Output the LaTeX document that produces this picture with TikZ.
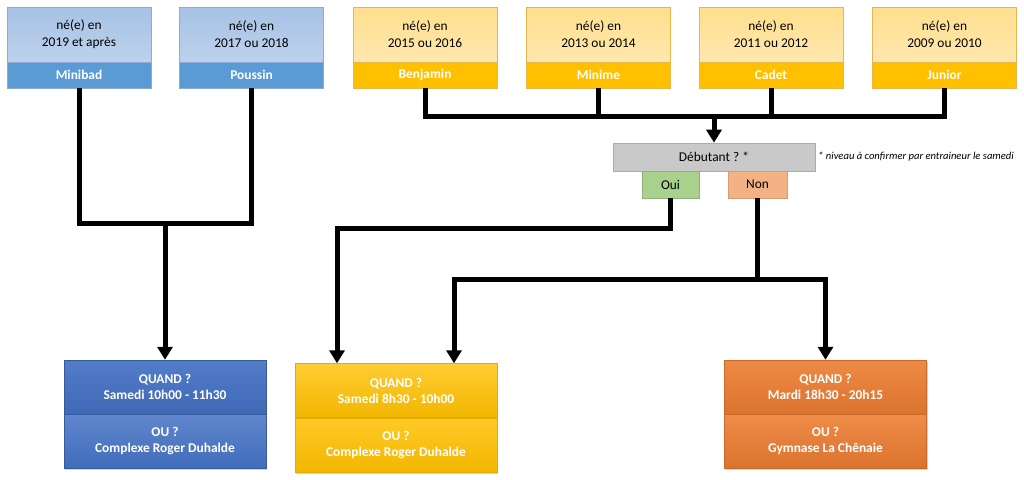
\documentclass[tikz,border=0pt]{standalone}
\usepackage{fontspec}
\setmainfont{Carlito}
\usepackage{tikz}
\usetikzlibrary{arrows.meta}
\usetikzlibrary{shadows}

\definecolor{bluetopA}{HTML}{A7C2E5}
\definecolor{bluetopB}{HTML}{BDD1EC}
\definecolor{blueband}{HTML}{5B9BD5}
\definecolor{blueedge}{HTML}{8EAAD2}
\definecolor{goldtopA}{HTML}{FFDF8E}
\definecolor{goldtopB}{HTML}{FFE8AE}
\definecolor{goldband}{HTML}{FFC000}
\definecolor{goldedge}{HTML}{E8B64A}
\definecolor{greyask}{HTML}{C9C9C9}
\definecolor{greenyes}{HTML}{A9D18E}
\definecolor{salmonno}{HTML}{F4B183}
\definecolor{slotblue}{HTML}{4472C4}
\definecolor{slotgold}{HTML}{FFC000}
\definecolor{slotorange}{HTML}{ED7D31}

\begin{document}
\frenchspacing
\begin{tikzpicture}[x=1pt,y=-1pt,
  agebox/.style={minimum width=144pt,minimum height=55pt,inner sep=0pt,
    align=center,line width=0.6pt,font=\fontsize{13.4}{17}\selectfont},
  bandbox/.style={minimum width=144pt,minimum height=26pt,inner sep=0pt,
    line width=0.6pt,text=white,font=\bfseries\fontsize{13.4}{16}\selectfont},
  youngage/.style={agebox,draw=blueedge,top color=bluetopA,bottom color=bluetopB},
  youngband/.style={bandbox,draw=blueedge,fill=blueband},
  olderage/.style={agebox,draw=goldedge,top color=goldtopA,bottom color=goldtopB},
  olderband/.style={bandbox,draw=goldedge,fill=goldband},
  askbox/.style={minimum height=27pt,inner sep=0pt,line width=0.6pt,
    font=\fontsize{13.4}{16}\selectfont},
  slotbox/.style={minimum width=202pt,minimum height=54pt,inner sep=0pt,
    align=center,text=white,font=\bfseries\fontsize{13.4}{16}\selectfont,
    drop shadow={shadow xshift=1pt,shadow yshift=-2pt,opacity=0.35}},
  link/.style={line width=5pt},
  arrowlink/.style={link,-{Triangle[width=15pt,length=13pt]}},
  bothlink/.style={link,{Triangle[width=15pt,length=13pt]}-{Triangle[width=15pt,length=13pt]}}]

\useasboundingbox (0,0) rectangle (1024,479);

% Age groups
\node[youngage] (minibadYear) at (79,34.5) {né(e) en\\2019 et après};
\node[youngband] (minibadBand) at (79,75) {Minibad};
\node[youngage] (poussinYear) at (251.5,34.5) {né(e) en\\2017 ou 2018};
\node[youngband] (poussinBand) at (251.5,75) {Poussin};
\node[olderage] (benjaminYear) at (425,34.5) {né(e) en\\2015 ou 2016};
\node[olderband] (benjaminBand) at (425,75) {Benjamin};
\node[olderage] (minimeYear) at (598.5,34.5) {né(e) en\\2013 ou 2014};
\node[olderband] (minimeBand) at (598.5,75) {Minime};
\node[olderage] (cadetYear) at (771,34.5) {né(e) en\\2011 ou 2012};
\node[olderband] (cadetBand) at (771,75) {Cadet};
\node[olderage] (juniorYear) at (944.5,34.5) {né(e) en\\2009 ou 2010};
\node[olderband] (juniorBand) at (944.5,75) {Junior};

% Question
\node[askbox,minimum width=202pt,minimum height=28pt,draw=greyask!85!black,fill=greyask] (debutant) at (714,157) {Débutant ? *};
\node[askbox,minimum width=57pt,draw=greenyes!85!black,fill=greenyes] (oui) at (670.5,184.5) {Oui};
\node[askbox,minimum width=59pt,draw=salmonno!88!black,fill=salmonno] (non) at (757.5,184.5) {Non};
\node[anchor=west,inner sep=0pt,font=\itshape\fontsize{10.6}{12}\selectfont] (note) at (818,157) {* niveau à confirmer par entraineur le samedi};

% Training slots
\node[slotbox,top color=slotblue!92!white,bottom color=slotblue!92!black,draw=slotblue!80!black] (blueWhen) at (165,387) {QUAND ?\\Samedi 10h00 - 11h30};
\node[slotbox,top color=slotblue!85!white,bottom color=slotblue!95!black,draw=slotblue!80!black] (blueWhere) at (165,441) {OU ?\\Complexe Roger Duhalde};
\node[slotbox,top color=slotgold!80!white,bottom color=slotgold!95!black,draw=slotgold!90!black] (goldWhen) at (396,390.5) {QUAND ?\\Samedi 8h30 - 10h00};
\node[slotbox,top color=slotgold!85!white,bottom color=slotgold!95!black,draw=slotgold!90!black] (goldWhere) at (396,445) {OU ?\\Complexe Roger Duhalde};
\node[slotbox,top color=slotorange!90!white,bottom color=slotorange!92!black,draw=slotorange!85!black] (orangeWhen) at (825.5,387) {QUAND ?\\Mardi 18h30 - 20h15};
\node[slotbox,top color=slotorange!88!white,bottom color=slotorange!92!black,draw=slotorange!85!black] (orangeWhere) at (825.5,441) {OU ?\\Gymnase La Chênaie};

% Turning points
\coordinate (youngJoin) at (165,223);
\coordinate (olderRow) at (0,116);
\coordinate (ouiRow) at (0,228);
\coordinate (nonRow) at (0,279);
\coordinate (goldLeft) at ([xshift=-59pt]goldWhen.north);
\coordinate (goldRight) at ([xshift=58pt]goldWhen.north);

% Minibad and Poussin
\draw[link] (minibadBand.south) |- (youngJoin) -| (poussinBand.south);
\draw[arrowlink] (youngJoin) -- (blueWhen.north);

% Benjamin to Junior
\draw[link] (benjaminBand.south) |- (juniorBand.south |- olderRow) -- (juniorBand.south);
\draw[link] (minimeBand.south) -- (minimeBand.south |- olderRow);
\draw[link] (cadetBand.south) -- (cadetBand.south |- olderRow);
\draw[arrowlink] (debutant.north |- olderRow) -- (debutant.north);

% Oui
\draw[arrowlink] (oui.south) -- (oui.south |- ouiRow) -| (goldLeft);

% Non
\draw[link] (non.south) -- (non.south |- nonRow);
\draw[bothlink] (goldRight) |- (orangeWhen.north |- nonRow) -- (orangeWhen.north);
\end{tikzpicture}
\end{document}
